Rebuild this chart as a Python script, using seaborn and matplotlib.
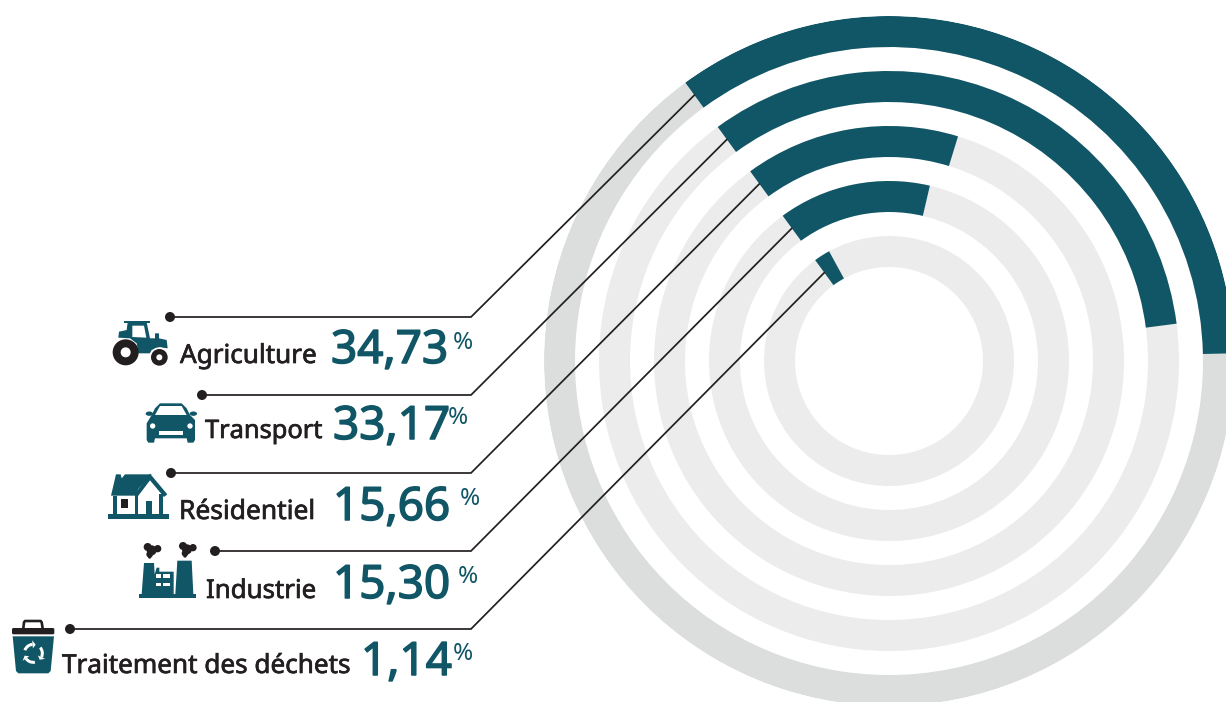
import numpy as np
import pandas as pd
import matplotlib
matplotlib.use('Agg')
import matplotlib.pyplot as plt
import matplotlib.patheffects as pe
from matplotlib.patches import Polygon, Circle, Ellipse, Rectangle, Wedge, FancyBboxPatch
import seaborn as sns

# Data
sectors = ['Agriculture', 'Transport', 'Résidentiel', 'Industrie', 'Traitement des déchets']
shares = [34.73, 33.17, 15.66, 15.30, 1.14]
# arc lengths as drawn in the picture (they do not follow the printed shares exactly)
arc_lengths = [34.7, 33.0, 14.8, 13.7, 2.1]

TEAL = '#105666'
DARK = '#231f20'
RING_OUTER = '#dcdedd'
RING_INNER = '#ebeceb'

sns.set_theme(style='white')
plt.rcParams['font.family'] = ['Noto Sans', 'DejaVu Sans']

df = pd.DataFrame({'sector': sectors, 'arc': arc_lengths})
df['angle'] = df['arc'] / 100 * 2 * np.pi
# a bar of exactly 2 pi collapses on polar axes, the seam sits under the teal arc
df['full'] = 0.9999 * 2 * np.pi

W, H = 1226, 702
fig = plt.figure(figsize=(W / 100, H / 100), dpi=100, facecolor='white')

# Rings: polar axes centred at pixel (889, 361), outer radius 345 px
ax = fig.add_axes([544 / W, (H - 706) / H, 690 / W, 690 / H], projection='polar')
ring_colors = dict(zip(sectors, [RING_OUTER] + [RING_INNER] * 4))
sns.barplot(data=df, x='full', y='sector', hue='sector', palette=ring_colors, order=sectors,
            orient='h', width=31 / 55, saturation=1, legend=False, errorbar=None, linewidth=0, ax=ax)
sns.barplot(data=df, x='angle', y='sector', color=TEAL, order=sectors,
            orient='h', width=31 / 55, saturation=1, errorbar=None, linewidth=0, ax=ax)
ax.set_theta_direction(-1)
ax.set_theta_offset(np.pi / 2 + np.deg2rad(36.2))
ax.set_ylim(329.5 / 55, -15.5 / 55)
ax.set_axis_off()

# Overlay in pixel coordinates for the labels, leaders and pictograms
ov = fig.add_axes([0, 0, 1, 1], zorder=5)
ov.set_xlim(0, W)
ov.set_ylim(H, 0)
ov.set_axis_off()
ov.patch.set_alpha(0)

# Leaders
row_y = [317, 395, 473, 551, 629]
dot_x = [170, 202, 171, 215, 70]
fig.canvas.draw()
for i, (y, dx) in enumerate(zip(row_y, dot_x)):
    ex, ey = ov.transData.inverted().transform(ax.transData.transform((0, i)))
    ov.plot([dx, 471, ex], [y, y, ey], color=DARK, lw=1.25, solid_joinstyle='miter')
    ov.add_patch(Circle((dx, y), 5, color=DARK, lw=0))

# Labels
label_pos = [(180, 363), (205, 438), (179, 519), (206, 598), (62, 673)]
label_size = [18.8, 18.3, 19.0, 18.6, 18.8]
value_pos = [(331, 363), (333, 439), (333, 520), (333, 598), (361, 675)]
pct_pos = [(453, 349), (448, 424), (460, 505), (458, 583), (453, 660)]
for name, v, lp, ls, vp, pp in zip(sectors, shares, label_pos, label_size, value_pos, pct_pos):
    ov.text(lp[0], lp[1], name, fontsize=ls, color=DARK, va='baseline', ha='left',
            path_effects=[pe.withStroke(linewidth=0.5, foreground=DARK)])
    ov.text(vp[0], vp[1], f'{v:.2f}'.replace('.', ','), fontsize=33, color=TEAL, va='baseline', ha='left',
            path_effects=[pe.withStroke(linewidth=1.1, foreground=TEAL)])
    ov.text(pp[0], pp[1], '%', fontsize=17.5, color=TEAL, va='baseline', ha='left')


def poly(pts, ox, oy, color=TEAL):
    pts = [(ox + px / 3, oy + py / 3) for px, py in pts]
    ov.add_patch(Polygon(pts, closed=True, color=color, lw=0))


def circ(cx, cy, r, ox, oy, color=TEAL):
    ov.add_patch(Circle((ox + cx / 3, oy + cy / 3), r / 3, color=color, lw=0))


def rect(x0, y0, x1, y1, ox, oy, color=TEAL):
    ov.add_patch(Rectangle((ox + x0 / 3, oy + y0 / 3), (x1 - x0) / 3, (y1 - y0) / 3, color=color, lw=0))


# Tractor
ox, oy = 105, 315
rect(58, 17, 135, 25, ox, oy)
poly([(40, 68), (42, 50), (65, 45), (68, 22), (125, 22), (135, 70), (150, 70), (150, 55), (162, 55), (162, 70),
      (185, 75), (188, 100), (165, 97), (140, 105), (135, 115), (100, 115), (95, 85), (75, 70)], ox, oy)
poly([(82, 32), (117, 32), (124, 68), (82, 66)], ox, oy, 'white')
circ(163, 127, 30, ox, oy, 'white')
circ(62, 112, 39, ox, oy, DARK)
circ(62, 112, 15, ox, oy, 'white')
circ(163, 127, 25, ox, oy, DARK)
circ(163, 127, 9, ox, oy, 'white')

# Car
ox, oy = 140, 395
poly([(60, 25), (125, 25), (140, 40), (150, 60), (165, 75), (165, 135), (160, 143), (143, 143), (140, 130),
      (45, 130), (42, 143), (25, 143), (20, 135), (20, 85), (35, 60), (45, 40)], ox, oy)
poly([(60, 33), (125, 33), (140, 60), (45, 60)], ox, oy, 'white')
ov.add_patch(Ellipse((ox + 28 / 3, oy + 56 / 3), 22 / 3, 13 / 3, color=TEAL, lw=0))
ov.add_patch(Ellipse((ox + 160 / 3, oy + 56 / 3), 22 / 3, 13 / 3, color=TEAL, lw=0))
circ(38, 93, 8, ox, oy, 'white')
circ(150, 93, 8, ox, oy, 'white')
rect(58, 109, 130, 119, ox, oy, 'white')

# House
ox, oy = 100, 465
rect(23, 148, 207, 163, ox, oy)
poly([(48, 28), (62, 28), (65, 40), (75, 28), (155, 28), (115, 72), (108, 92), (33, 92)], ox, oy)
rect(40, 92, 50, 150, ox, oy)
rect(104, 85, 114, 150, ox, oy)
rect(178, 88, 188, 150, ox, oy)
rect(138, 107, 157, 150, ox, oy)
rect(63, 102, 83, 128, ox, oy, DARK)
poly([(150, 26), (202, 88), (192, 96), (150, 46), (112, 96), (104, 88)], ox, oy)

# Factory
ox, oy = 130, 535
rect(27, 177, 198, 190, ox, oy)
poly([(42, 84), (72, 84), (74, 118), (80, 98), (88, 98), (88, 110), (131, 110), (131, 177), (35, 177)], ox, oy)
poly([(142, 77), (185, 77), (190, 177), (136, 177)], ox, oy)
for x0, x1 in [(78, 92), (100, 120)]:
    for y0, y1 in [(118, 128), (143, 153)]:
        rect(x0, y0, x1, y1, ox, oy, 'white')
for cx, cy in [(66, 44), (172, 41)]:
    circ(cx - 13, cy - 8, 12, ox, oy, DARK)
    circ(cx + 17, cy - 3, 11, ox, oy, DARK)
    circ(cx - 1, cy + 2, 15, ox, oy, DARK)
    circ(cx - 7, cy + 14, 10, ox, oy, DARK)
    circ(cx - 7, cy + 22, 5, ox, oy, DARK)

# Bin
ox, oy = 0, 615
ov.plot([70 / 3, 72 / 3, 75 / 3, 122 / 3, 125 / 3, 128 / 3],
        [oy + 40 / 3, oy + 22 / 3, oy + 18 / 3, oy + 18 / 3, oy + 22 / 3, oy + 40 / 3],
        color=DARK, lw=1.9, solid_joinstyle='round')
ov.add_patch(FancyBboxPatch((36 / 3 + 1.5, oy + 39 / 3 + 1.5), 127 / 3 - 3, 19 / 3 - 3,
                            boxstyle='round,pad=1.5', color=DARK, lw=0))
poly([(38, 64), (162, 64), (152, 168), (145, 175), (55, 175), (48, 168)], ox, oy)
cx, cy = 100 / 3, oy + 115 / 3
for a0, a1, tip in [(200, 265, 285), (320, 25, 45), (80, 145, 165)]:
    ov.add_patch(Wedge((cx, cy), 10.5, a0, a1, width=3, color='white', lw=0))
    rm = 9
    tx, ty = cx + rm * np.cos(np.deg2rad(tip)), cy + rm * np.sin(np.deg2rad(tip))
    for_a = np.deg2rad(a1)
    bx, by = cx + rm * np.cos(for_a), cy + rm * np.sin(for_a)
    nx, ny = np.cos(for_a) * 4, np.sin(for_a) * 4
    ov.add_patch(Polygon([(bx - nx, by - ny), (bx + nx, by + ny), (tx, ty)], closed=True, color='white', lw=0))

fig.savefig('out.png', dpi=100)
